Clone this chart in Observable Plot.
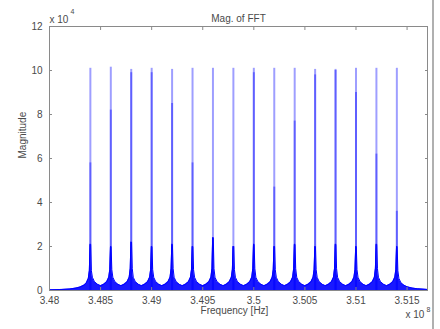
<!DOCTYPE html>
<html><head><meta charset="utf-8">
<script src="https://cdn.jsdelivr.net/npm/d3@7"></script>
<script src="https://cdn.jsdelivr.net/npm/@observablehq/plot@0.6"></script>
<style>
body{margin:0;background:#fff;}
#chart{width:440px;height:329px;position:relative;overflow:hidden;}
#edge{position:absolute;left:432px;top:0;width:2px;height:329px;background:#b0b0b0;}
</style></head><body><div id="chart"><div id="edge"></div></div>
<script>
// x in units of 1e8 Hz, y in units of 1e4
const xTicks = [3.48, 3.485, 3.49, 3.495, 3.5, 3.505, 3.51, 3.515];
const xTickLabels = ["3.48", "3.485", "3.49", "3.495", "3.5", "3.505", "3.51", "3.515"];
const yTicks = [0, 2, 4, 6, 8, 10, 12];
const yTickLabels = ["0", "2", "4", "6", "8", "10", "12"];

const peakFreq = [3.484, 3.486, 3.488, 3.490, 3.492, 3.494, 3.496, 3.498, 3.500, 3.502, 3.504, 3.506, 3.508, 3.510, 3.512, 3.514];
const peakMag  = [10.1, 10.15, 10.05, 10.1, 10.05, 10.1, 10.1, 10.1, 10.1, 10.1, 10.1, 10.05, 10.05, 10.1, 10.1, 10.1];
const peakCore = [5.8, 8.2, 9.9, 9.9, 8.5, 5.8, 2.4, 2.0, 9.9, 4.7, 7.7, 9.8, 10.0, 9.0, 6.2, 3.6];

const spectrum = [
  [3.4800,0.03],[3.4810,0.04],[3.4820,0.07],[3.4826,0.11],[3.4830,0.16],[3.4834,0.25],[3.4836,0.34],[3.4838,0.55],[3.4839,0.9],[3.48397,2.1],[3.48403,2.1],[3.4841,0.9],[3.4842,0.6],[3.4844,0.4],[3.4847,0.28],[3.4850,0.22],
  [3.4853,0.28],[3.4856,0.4],[3.4858,0.6],[3.4859,0.95],[3.48597,2.0],[3.48603,2.0],[3.4861,0.95],[3.4862,0.6],[3.4864,0.4],[3.4867,0.28],[3.4870,0.22],
  [3.4873,0.28],[3.4876,0.4],[3.4878,0.6],[3.4879,1.0],[3.48797,2.2],[3.48803,2.2],[3.4881,1.0],[3.4882,0.6],[3.4884,0.4],[3.4887,0.28],[3.4890,0.22],
  [3.4893,0.28],[3.4896,0.4],[3.4898,0.6],[3.4899,0.95],[3.48997,2.0],[3.49003,2.0],[3.4901,0.95],[3.4902,0.6],[3.4904,0.4],[3.4907,0.28],[3.4910,0.22],
  [3.4913,0.28],[3.4916,0.4],[3.4918,0.6],[3.4919,1.0],[3.49197,2.1],[3.49203,2.1],[3.4921,1.0],[3.4922,0.6],[3.4924,0.4],[3.4927,0.28],[3.4930,0.22],
  [3.4933,0.28],[3.4936,0.4],[3.4938,0.6],[3.4939,0.95],[3.49397,2.0],[3.49403,2.0],[3.4941,0.95],[3.4942,0.6],[3.4944,0.4],[3.4947,0.28],[3.4950,0.22],
  [3.4953,0.28],[3.4956,0.4],[3.4958,0.6],[3.4959,1.0],[3.49597,2.4],[3.49603,2.4],[3.4961,1.0],[3.4962,0.6],[3.4964,0.4],[3.4967,0.28],[3.4970,0.22],
  [3.4973,0.28],[3.4976,0.4],[3.4978,0.6],[3.4979,0.95],[3.49797,2.0],[3.49803,2.0],[3.4981,0.95],[3.4982,0.6],[3.4984,0.4],[3.4987,0.28],[3.4990,0.22],
  [3.4993,0.28],[3.4996,0.4],[3.4998,0.6],[3.4999,1.0],[3.49997,2.1],[3.50003,2.1],[3.5001,1.0],[3.5002,0.6],[3.5004,0.4],[3.5007,0.28],[3.5010,0.22],
  [3.5013,0.28],[3.5016,0.4],[3.5018,0.6],[3.5019,0.95],[3.50197,2.0],[3.50203,2.0],[3.5021,0.95],[3.5022,0.6],[3.5024,0.4],[3.5027,0.28],[3.5030,0.22],
  [3.5033,0.28],[3.5036,0.4],[3.5038,0.6],[3.5039,1.0],[3.50397,2.1],[3.50403,2.1],[3.5041,1.0],[3.5042,0.6],[3.5044,0.4],[3.5047,0.28],[3.5050,0.22],
  [3.5053,0.28],[3.5056,0.4],[3.5058,0.6],[3.5059,0.95],[3.50597,2.0],[3.50603,2.0],[3.5061,0.95],[3.5062,0.6],[3.5064,0.4],[3.5067,0.28],[3.5070,0.22],
  [3.5073,0.28],[3.5076,0.4],[3.5078,0.6],[3.5079,1.0],[3.50797,2.1],[3.50803,2.1],[3.5081,1.0],[3.5082,0.6],[3.5084,0.4],[3.5087,0.28],[3.5090,0.22],
  [3.5093,0.28],[3.5096,0.4],[3.5098,0.6],[3.5099,0.95],[3.50997,2.0],[3.51003,2.0],[3.5101,0.95],[3.5102,0.6],[3.5104,0.4],[3.5107,0.28],[3.5110,0.22],
  [3.5113,0.28],[3.5116,0.4],[3.5118,0.6],[3.5119,1.0],[3.51197,2.1],[3.51203,2.1],[3.5121,1.0],[3.5122,0.6],[3.5124,0.4],[3.5127,0.28],[3.5130,0.22],
  [3.5133,0.28],[3.5136,0.4],[3.5138,0.6],[3.5139,0.95],[3.51397,2.0],[3.51403,2.0],[3.5141,0.9],[3.5142,0.55],[3.5144,0.35],[3.5147,0.24],[3.5150,0.17],[3.5155,0.11],[3.5160,0.08],[3.5170,0.05]
];

const peaks = peakFreq.map((f, i) => ({f, top: peakMag[i], core: peakCore[i]}));
const spec = spectrum.map(([f, m]) => ({f, m}));
const blue = "#0000ff";
const textColor = "#4a4a4a";
const axisColor = "#8a8a8a";

const chart = Plot.plot({
  width: 440,
  height: 329,
  marginTop: 26,
  marginRight: 13,
  marginBottom: 39,
  marginLeft: 49,
  style: {fontFamily: "'Liberation Sans', Arial, sans-serif", fontSize: "10px", color: textColor, background: "transparent"},
  x: {domain: [3.48, 3.517], label: null},
  y: {domain: [0, 12], label: null},
  marks: [
    Plot.areaY(spec, {x: "f", y: "m", fill: blue, fillOpacity: 0.9, curve: "linear"}),
    Plot.lineY(spec, {x: "f", y: "m", stroke: blue, strokeWidth: 1}),
    Plot.ruleX(peaks, {x: "f", y1: 0, y2: "top", stroke: blue, strokeOpacity: 0.38, strokeWidth: 2}),
    Plot.ruleX(peaks, {x: "f", y1: 0, y2: "core", stroke: blue, strokeOpacity: 0.4, strokeWidth: 2}),
    Plot.frame({stroke: axisColor, strokeWidth: 1}),
    Plot.axisX(xTicks, {anchor: "bottom", tickSize: -3, tickPadding: 9, stroke: axisColor, fill: textColor, tickFormat: (d, i) => xTickLabels[i], label: null}),
    Plot.axisX(xTicks, {anchor: "top", tickSize: -3, stroke: axisColor, tickFormat: () => "", label: null}),
    Plot.axisY(yTicks, {anchor: "left", tickSize: -3, tickPadding: 10, stroke: axisColor, fill: textColor, tickFormat: (d, i) => yTickLabels[i], label: null}),
    Plot.axisY(yTicks, {anchor: "right", tickSize: -3, stroke: axisColor, tickFormat: () => "", label: null}),
    Plot.text(["Mag. of FFT"], {frameAnchor: "top", dy: -12, fill: textColor, fontSize: 10}),
    Plot.text(["Frequency [Hz]"], {frameAnchor: "bottom", dx: -4, dy: 23, fill: textColor, fontSize: 10}),
    Plot.text(["Magnitude"], {frameAnchor: "left", dx: -27, rotate: -90, fill: textColor, fontSize: 10}),
    Plot.text(["x 10"], {frameAnchor: "top-left", dx: 0, dy: -11, textAnchor: "start", fill: textColor, fontSize: 10}),
    Plot.text(["4"], {frameAnchor: "top-left", dx: 21, dy: -17, textAnchor: "start", fill: textColor, fontSize: 7}),
    Plot.text(["x 10"], {frameAnchor: "bottom-right", dx: -22, dy: 27, textAnchor: "start", fill: textColor, fontSize: 10}),
    Plot.text(["8"], {frameAnchor: "bottom-right", dx: -1, dy: 21, textAnchor: "start", fill: textColor, fontSize: 7})
  ]
});
document.getElementById("chart").prepend(chart);
</script>
</body></html>
